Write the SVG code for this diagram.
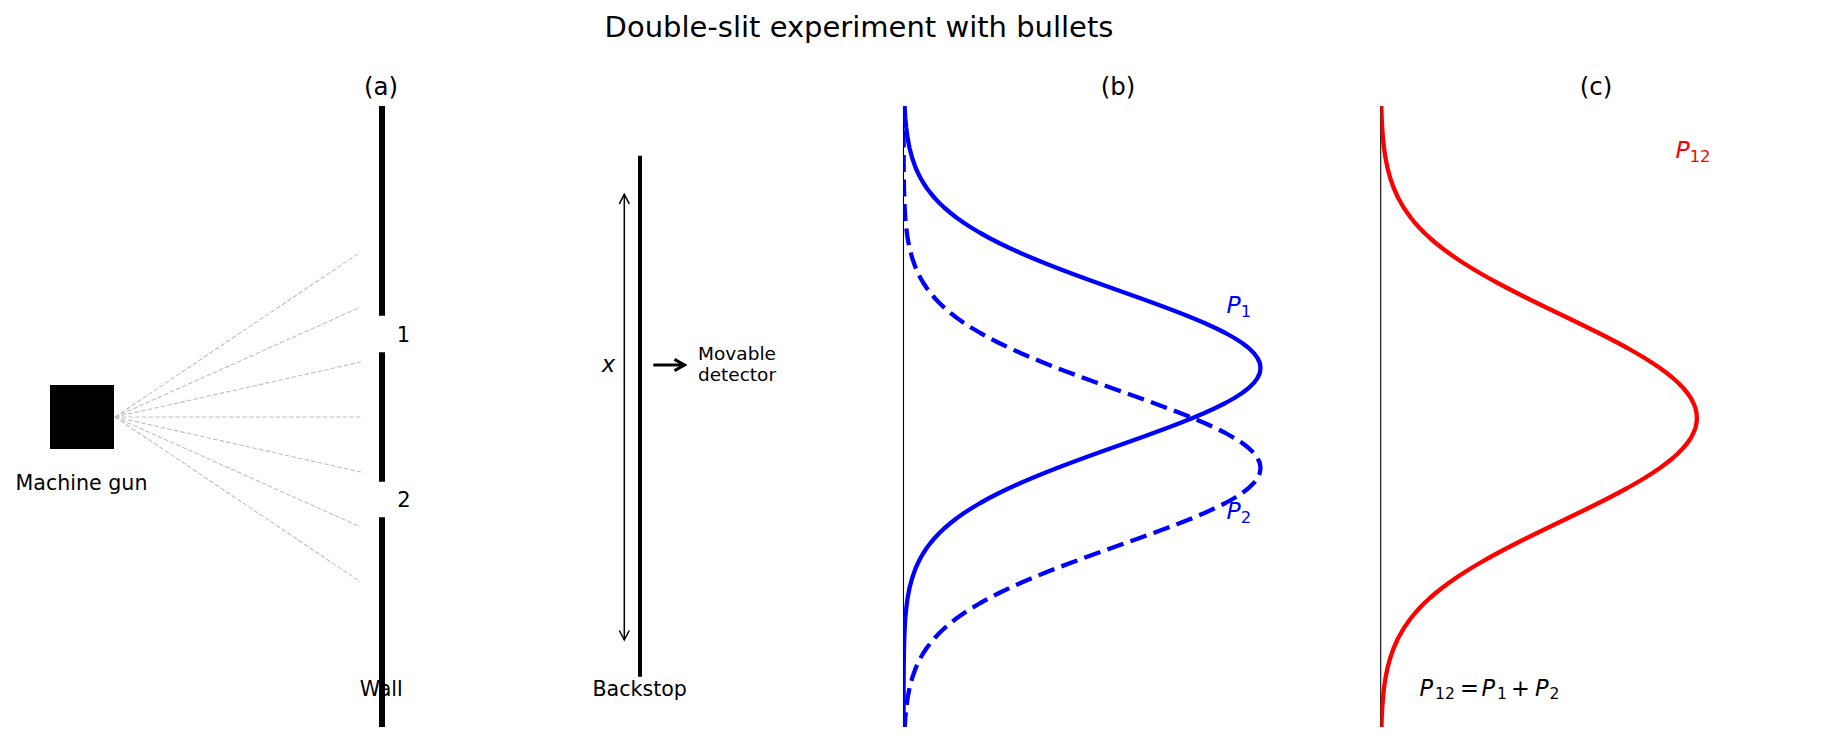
<svg xmlns="http://www.w3.org/2000/svg" xmlns:xlink="http://www.w3.org/1999/xlink" width="1826" height="742" viewBox="0 0 1826 742">
<style>
  text { font-family: "DejaVu Sans", "Liberation Sans", sans-serif; fill: #000; }
  .title { font-size: 29px; text-anchor: middle; }
  .ptitle { font-size: 24.5px; text-anchor: middle; }
  .lbl { font-size: 20.6px; text-anchor: middle; }
  .small { font-size: 18.5px; text-anchor: middle; }
  .math { font-size: 23.5px; }
  .eq { font-size: 22.5px; }
  .it { font-style: italic; }
  .sub { font-size: 16.4px; }
  .esub { font-size: 15.6px; }
  .wall { stroke: #000; stroke-width: 6; fill: none; }
  .stop { stroke: #000; stroke-width: 4; fill: none; }
  .fan { stroke: #bfbfbf; stroke-width: 1.1; stroke-dasharray: 4.5 2.2; fill: none; }
  .spine { stroke: #000; stroke-width: 1.1; fill: none; }
  .curve { fill: none; stroke-width: 4.3; stroke-linejoin: round; }
</style>
<defs>
  <marker id="headThin" markerUnits="userSpaceOnUse" viewBox="-12 -8 14 16" refX="0" refY="0" markerWidth="14" markerHeight="16" orient="auto-start-reverse" overflow="visible">
    <path d="M-9.5,-5 L0,0 L-9.5,5" fill="none" stroke="#000" stroke-width="1.5"/>
  </marker>
  <marker id="headThick" markerUnits="userSpaceOnUse" viewBox="-14 -9 16 18" refX="0" refY="0" markerWidth="16" markerHeight="18" orient="auto" overflow="visible">
    <path d="M-10,-5.6 L0,0 L-10,5.6" fill="none" stroke="#000" stroke-width="3"/>
  </marker>
  <clipPath id="clipB"><rect x="903.3" y="106" width="480" height="621"/></clipPath>
  <clipPath id="clipC"><rect x="1380.5" y="106" width="440" height="621"/></clipPath>
  <path id="gauss" d="M903.5,6 L903.6,48 L903.7,68 L904.0,88 L904.3,98 L904.7,108 L905.3,118 L906.3,128 L907.6,138 L909.5,148 L912.2,158 L915.7,168 L918.0,173 L920.5,178 L923.4,183 L926.7,188 L930.5,193 L934.7,198 L939.4,203 L944.7,208 L950.6,213 L957.0,218 L964.1,223 L971.9,228 L980.3,233 L989.3,238 L999.1,243 L1009.5,248 L1020.5,253 L1032.2,258 L1044.4,263 L1057.1,268 L1070.3,273 L1083.8,278 L1097.6,283 L1111.6,288 L1125.7,293 L1139.7,298 L1153.5,303 L1167.0,308 L1180.1,313 L1192.6,318 L1204.5,323 L1215.4,328 L1225.5,333 L1234.4,338 L1242.2,343 L1248.7,348 L1253.8,353 L1257.5,358 L1259.8,363 L1260.5,368 L1259.8,373 L1257.5,378 L1253.8,383 L1248.7,388 L1242.2,393 L1234.4,398 L1225.5,403 L1215.4,408 L1204.5,413 L1192.6,418 L1180.1,423 L1167.0,428 L1153.5,433 L1139.7,438 L1125.7,443 L1111.6,448 L1097.6,453 L1083.8,458 L1070.3,463 L1057.1,468 L1044.4,473 L1032.2,478 L1020.5,483 L1009.5,488 L999.1,493 L989.3,498 L980.3,503 L971.9,508 L964.1,513 L957.0,518 L950.6,523 L944.7,528 L939.4,533 L934.7,538 L930.5,543 L926.7,548 L923.4,553 L920.5,558 L918.0,563 L915.7,568 L912.2,578 L909.5,588 L907.6,598 L906.3,608 L905.3,618 L904.7,628 L904.3,638 L904.0,648 L903.7,668 L903.6,688 L903.5,730 L903.5,827"/>
</defs>

<rect width="1826" height="742" fill="#fff"/>

<g id="title"><text class="title" x="859" y="36.5">Double-slit experiment with bullets</text></g>

<!-- Panel (a) -->
<g id="panel-a-title"><text class="ptitle" x="381" y="95">(a)</text></g>

<g id="machine-gun">
  <rect x="50" y="385" width="64" height="64" fill="#000"/>
  <text class="lbl" x="81.5" y="490">Machine gun</text>
</g>

<g id="connectors">
  <line class="fan" x1="115" y1="417" x2="360" y2="252.5"/>
  <line class="fan" x1="115" y1="417" x2="360" y2="307.3"/>
  <line class="fan" x1="115" y1="417" x2="361" y2="362"/>
  <line class="fan" x1="115" y1="417" x2="362" y2="417"/>
  <line class="fan" x1="115" y1="417" x2="361" y2="472"/>
  <line class="fan" x1="115" y1="417" x2="360" y2="526.7"/>
  <line class="fan" x1="115" y1="417" x2="360" y2="581.5"/>
  <line x1="624.3" y1="194.3" x2="624.3" y2="640" stroke="#000" stroke-width="1.5" marker-start="url(#headThin)" marker-end="url(#headThin)"/>
  <line x1="653.3" y1="365" x2="684.5" y2="365" stroke="#000" stroke-width="3" marker-end="url(#headThick)"/>
</g>

<g id="wall">
  <text class="lbl" x="381.2" y="696">Wall</text>
  <line class="wall" x1="382" y1="106" x2="382" y2="315.7"/>
  <line class="wall" x1="382" y1="352.3" x2="382" y2="481.7"/>
  <line class="wall" x1="382" y1="517.3" x2="382" y2="727"/>
  <text class="lbl" x="403.5" y="341.7" style="font-size:21px">1</text>
  <text class="lbl" x="404" y="506.7" style="font-size:21px">2</text>
</g>

<g id="backstop">
  <line class="stop" x1="640" y1="155.7" x2="640" y2="676.7"/>
  <text class="lbl" x="639.7" y="696">Backstop</text>
  <text class="math it" x="608.3" y="371.7" text-anchor="middle" style="font-size:22.5px">x</text>
</g>

<g id="detector">
  <text class="small" x="737" y="360">Movable</text>
  <text class="small" x="737" y="381">detector</text>
</g>

<!-- Panel (b) -->
<g id="panel-b">
  <text class="ptitle" x="1118" y="95">(b)</text>
  <line class="spine" x1="903.5" y1="106" x2="903.5" y2="727"/>
  <g clip-path="url(#clipB)">
    <use xlink:href="#gauss" class="curve" stroke="#0000ff"/>
    <use xlink:href="#gauss" class="curve" stroke="#0000ff" stroke-dasharray="17 7.5" transform="translate(0,100)"/>
  </g>
  <text class="math" x="1226.5" y="313.3" fill="#0000ff"><tspan class="it" fill="#0000ff">P</tspan><tspan class="sub" dy="3.4" fill="#0000ff">1</tspan></text>
  <text class="math" x="1226.5" y="519.3" fill="#0000ff"><tspan class="it" fill="#0000ff">P</tspan><tspan class="sub" dy="3.4" fill="#0000ff">2</tspan></text>
</g>

<!-- Panel (c) -->
<g id="panel-c">
  <text class="ptitle" x="1596" y="95">(c)</text>
  <line class="spine" x1="1380.7" y1="106" x2="1380.7" y2="727"/>
  <g clip-path="url(#clipC)">
    <path class="curve" stroke="#ff0000" d="M1381.3,106 L1381.7,118 L1382.2,128 L1383.0,138 L1384.0,148 L1385.5,158 L1387.5,168 L1390.2,178 L1393.7,188 L1398.2,198 L1403.9,208 L1411.0,218 L1415.1,223 L1419.6,228 L1424.5,233 L1429.9,238 L1435.7,243 L1442.0,248 L1448.7,253 L1455.8,258 L1463.4,263 L1471.4,268 L1479.8,273 L1488.6,278 L1497.7,283 L1507.2,288 L1516.9,293 L1526.9,298 L1537.0,303 L1547.3,308 L1557.7,313 L1568.1,318 L1578.4,323 L1588.6,328 L1598.7,333 L1608.6,338 L1618.1,343 L1627.4,348 L1636.2,353 L1644.6,358 L1652.5,363 L1659.9,368 L1666.7,373 L1672.9,378 L1678.4,383 L1683.2,388 L1687.4,393 L1690.8,398 L1693.4,403 L1695.4,408 L1696.5,413 L1696.9,418 L1696.5,423 L1695.4,428 L1693.4,433 L1690.8,438 L1687.4,443 L1683.2,448 L1678.4,453 L1672.9,458 L1666.7,463 L1659.9,468 L1652.5,473 L1644.6,478 L1636.2,483 L1627.4,488 L1618.1,493 L1608.6,498 L1598.7,503 L1588.6,508 L1578.4,513 L1568.1,518 L1557.7,523 L1547.3,528 L1537.0,533 L1526.9,538 L1516.9,543 L1507.2,548 L1497.7,553 L1488.6,558 L1479.8,563 L1471.4,568 L1463.4,573 L1455.8,578 L1448.7,583 L1442.0,588 L1435.7,593 L1429.9,598 L1424.5,603 L1419.6,608 L1415.1,613 L1411.0,618 L1403.9,628 L1398.2,638 L1393.7,648 L1390.2,658 L1387.5,668 L1385.5,678 L1384.0,688 L1383.0,698 L1382.2,708 L1381.7,718 L1381.4,730"/>
  </g>
  <text class="math" x="1675.5" y="158.3" fill="#ff0000"><tspan class="it" fill="#ff0000">P</tspan><tspan class="sub" dy="3.4" fill="#ff0000">12</tspan></text>
  <text class="eq">
    <tspan class="it" x="1419.5" y="696">P</tspan><tspan class="esub" x="1435" y="699.4">12</tspan><tspan x="1460" y="696">=</tspan><tspan class="it" x="1481.5" y="696">P</tspan><tspan class="esub" x="1497" y="699.4">1</tspan><tspan x="1511" y="696">+</tspan><tspan class="it" x="1535" y="696">P</tspan><tspan class="esub" x="1549.5" y="699.4">2</tspan>
  </text>
</g>
</svg>
